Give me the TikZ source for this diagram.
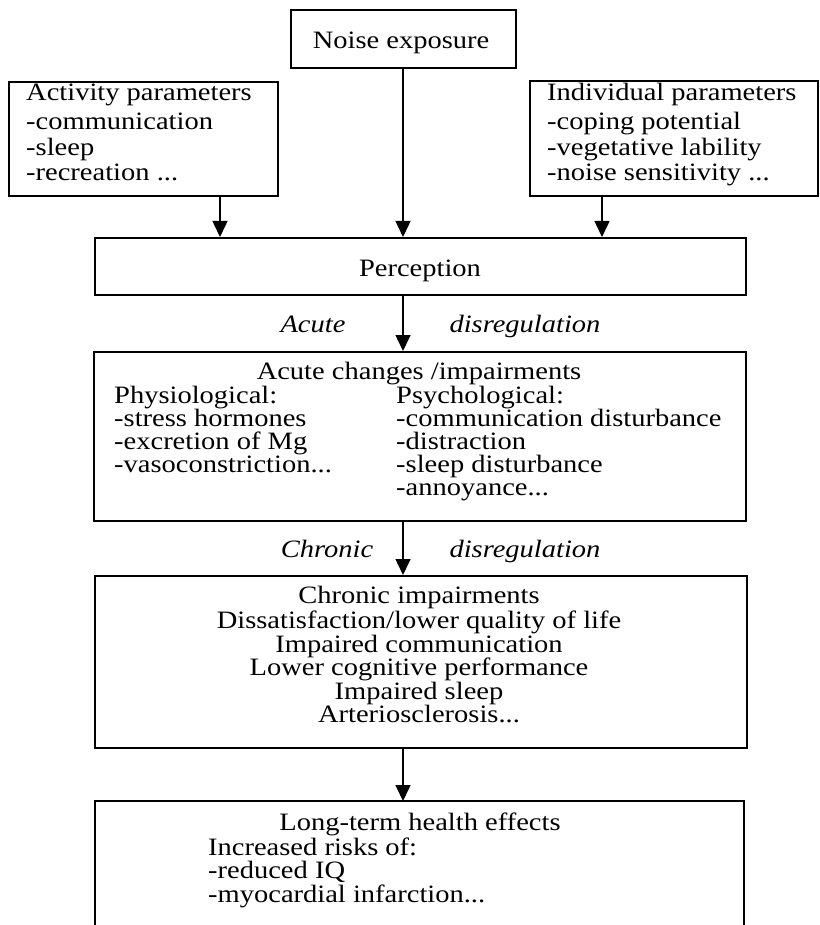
\documentclass[tikz,border=0pt]{standalone}
\usepackage{fontspec}
\setmainfont{Liberation Serif}[FakeStretch=1.14]
\usetikzlibrary{arrows.meta}
\newcommand\fsz{\fontsize{25}{26}\selectfont}
\begin{document}
\begin{tikzpicture}[x=1pt,y=-1pt,
  box/.style={draw, line width=1.9pt, inner sep=0pt, anchor=north west},
  openbox/.style={inner sep=0pt, anchor=north west},
  txt/.style={inner sep=0pt, anchor=base west, font=\fsz},
  ctxt/.style={inner sep=0pt, anchor=base, font=\fsz},
  lab/.style={inner sep=0pt, anchor=base, font=\fsz\itshape},
  arr/.style={line width=1.5pt, -{Triangle[length=16pt,width=15pt]}}]
\useasboundingbox (0,0) rectangle (819,925);
% boxes
\node[box, minimum width=225pt, minimum height=58pt] (noise) at (290,9) {};
\node[box, minimum width=269pt, minimum height=114pt] (act) at (8,81) {};
\node[box, minimum width=288pt, minimum height=115pt] (ind) at (529,80) {};
\node[box, minimum width=651pt, minimum height=57pt] (perc) at (94,237) {};
\node[box, minimum width=652pt, minimum height=169pt] (acute) at (93,351) {};
\node[box, minimum width=652pt, minimum height=172pt] (chron) at (94,575) {};
\node[openbox, minimum width=649pt, minimum height=124pt] (lt) at (95,801) {};
\draw[line width=1.9pt] (lt.south west) -- (lt.north west) -- (lt.north east) -- (lt.south east);
% arrow columns
\coordinate (ax) at (220,0);
\coordinate (mx) at (403,0);
\coordinate (ix) at (602,0);
\draw[arr] (act.south -| ax) -- (perc.north -| ax);
\draw[arr] (noise.south -| mx) -- (perc.north -| mx);
\draw[arr] (ind.south -| ix) -- (perc.north -| ix);
\draw[arr] (perc.south -| mx) -- (acute.north -| mx);
\draw[arr] (acute.south -| mx) -- (chron.north -| mx);
\draw[arr] (chron.south -| mx) -- (lt.north -| mx);
% texts
\node[ctxt] (tnoise) at (401,49) {Noise exposure};
\node[txt] (ta1) at (26,101) {Activity parameters};
\node[txt] (ta2) at (26,130) {-communication};
\node[txt] (ta3) at (26,156) {-sleep};
\node[txt] (ta4) at (26,181) {-recreation ...};
\node[txt] (ti1) at (547,101) {Individual parameters};
\node[txt] (ti2) at (547,130) {-coping potential};
\node[txt] (ti3) at (547,156) {-vegetative lability};
\node[txt] (ti4) at (547,181) {-noise sensitivity ...};
\node[ctxt] (tperc) at (420,276) {Perception};
\node[lab] (l1a) at (313,332) {Acute};
\node[lab] (l1b) at (525,332) {disregulation};
\node[ctxt] (tac) at (419,379) {Acute changes /impairments};
\node[txt] (tp1) at (114,403) {Physiological:};
\node[txt] (tp2) at (114,426) {-stress hormones};
\node[txt] (tp3) at (114,449) {-excretion of Mg};
\node[txt] (tp4) at (114,472) {-vasoconstriction...};
\node[txt] (ts1) at (396,403) {Psychological:};
\node[txt] (ts2) at (396,426) {-communication disturbance};
\node[txt] (ts3) at (396,449) {-distraction};
\node[txt] (ts4) at (396,472) {-sleep disturbance};
\node[txt] (ts5) at (396,495) {-annoyance...};
\node[lab] (l2a) at (327,557) {Chronic};
\node[lab] (l2b) at (525,557) {disregulation};
\node[ctxt] (tc1) at (419,603) {Chronic impairments};
\node[ctxt] (tc2) at (419,628) {Dissatisfaction/lower quality of life};
\node[ctxt] (tc3) at (419,652) {Impaired communication};
\node[ctxt] (tc4) at (419,675) {Lower cognitive performance};
\node[ctxt] (tc5) at (419,699) {Impaired sleep};
\node[ctxt] (tc6) at (419,722) {Arteriosclerosis...};
\node[ctxt] (tl1) at (420,830) {Long-term health effects};
\node[txt] (tl2) at (208,855) {Increased risks of:};
\node[txt] (tl3) at (208,878) {-reduced IQ};
\node[txt] (tl4) at (208,902) {-myocardial infarction...};
\end{tikzpicture}
\end{document}
